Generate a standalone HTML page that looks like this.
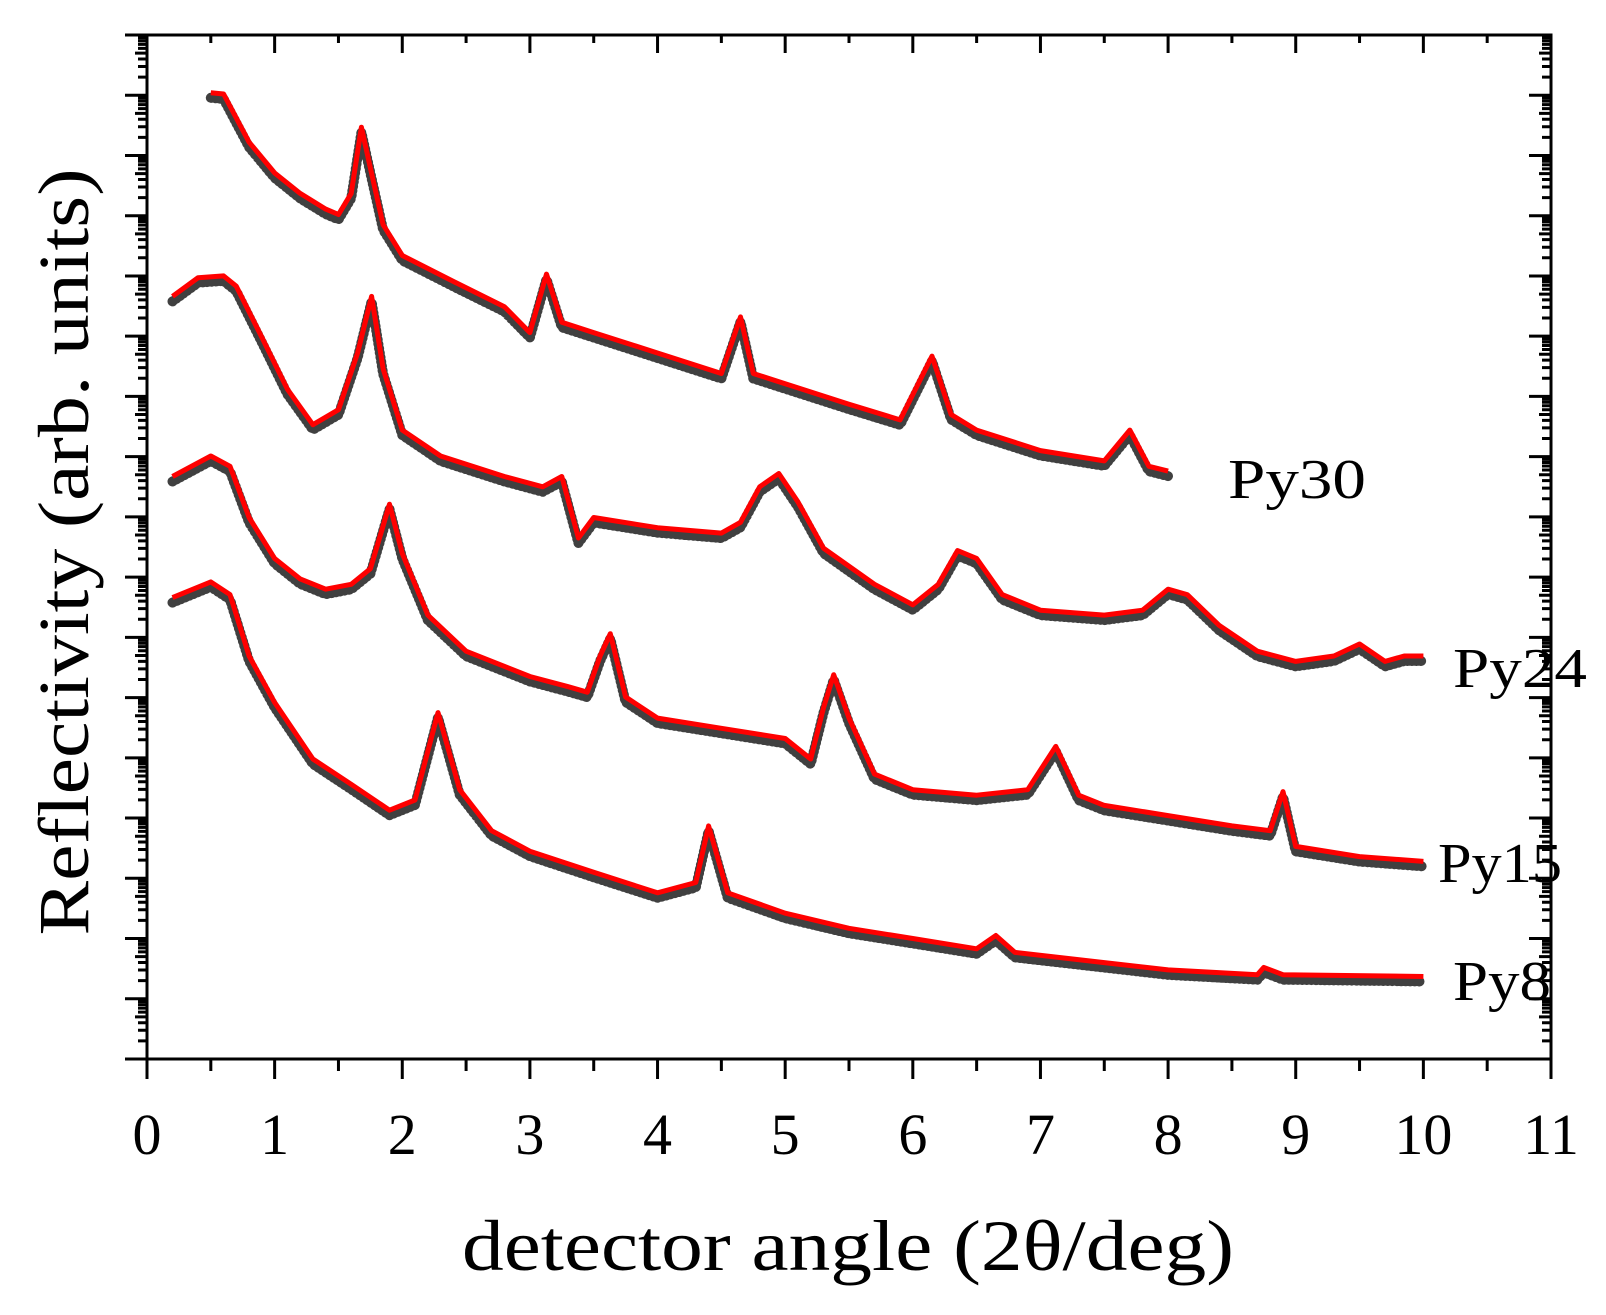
<!DOCTYPE html>
<html><head><meta charset="utf-8"><style>
html,body{margin:0;padding:0;background:#fff;}
svg{display:block;}
text{font-family:"Liberation Serif",serif;fill:#000;}
</style></head><body>
<svg id="chart" width="1606" height="1315" viewBox="0 0 1606 1315" xmlns="http://www.w3.org/2000/svg">
<g id="axes"></g>
<g id="series"></g>
<text x="848" y="1270" font-size="72" text-anchor="middle" textLength="772" lengthAdjust="spacingAndGlyphs">detector angle (2θ/deg)</text>
<text transform="translate(88,552) rotate(-90)" font-size="72" text-anchor="middle" textLength="767" lengthAdjust="spacingAndGlyphs">Reflectivity (arb. units)</text>
<text x="1228" y="498" font-size="56" textLength="138" lengthAdjust="spacingAndGlyphs">Py30</text>
<text x="1453" y="687" font-size="56" textLength="134" lengthAdjust="spacingAndGlyphs">Py24</text>
<text x="1438" y="882" font-size="56" textLength="124" lengthAdjust="spacingAndGlyphs">Py15</text>
<text x="1453" y="1000" font-size="56" textLength="98" lengthAdjust="spacingAndGlyphs">Py8</text>
</svg>
<script>
const xTicks=[0,1,2,3,4,5,6,7,8,9,10,11];
const yDecades=[0,1,2,3,4,5,6,7,8,9,10,11,12,13,14,15,16,17];
const py30X=[0.5,0.6,0.8,1.0,1.2,1.4,1.5,1.6,1.68,1.75,1.85,2.0,2.4,2.8,3.0,3.13,3.25,3.5,4.0,4.5,4.65,4.75,5.0,5.5,5.9,6.15,6.3,6.5,7.0,7.5,7.7,7.85,8.0];
const py30Y=[16.04,16.02,15.22,14.71,14.37,14.11,14.02,14.37,15.47,14.79,13.85,13.34,12.91,12.49,12.06,13.03,12.23,12.06,11.72,11.38,12.32,11.38,11.21,10.87,10.61,11.67,10.70,10.44,10.10,9.93,10.44,9.84,9.76];
const py24X=[0.2,0.4,0.6,0.7,0.9,1.1,1.3,1.5,1.65,1.76,1.85,2.0,2.3,2.8,3.1,3.25,3.38,3.5,4.0,4.5,4.65,4.8,4.95,5.1,5.3,5.7,6.0,6.2,6.35,6.5,6.7,7.0,7.5,7.8,8.0,8.15,8.4,8.7,9.0,9.3,9.5,9.7,9.85,10.0];
const py24Y=[12.66,12.97,13.0,12.83,11.98,11.12,10.53,10.78,11.72,12.66,11.46,10.44,10.01,9.67,9.50,9.67,8.65,8.99,8.82,8.73,8.91,9.50,9.72,9.25,8.48,7.88,7.54,7.88,8.44,8.31,7.71,7.45,7.37,7.45,7.80,7.71,7.20,6.77,6.60,6.69,6.89,6.60,6.69,6.69];
const py15X=[0.2,0.5,0.65,0.8,1.0,1.2,1.4,1.6,1.75,1.9,2.0,2.2,2.5,3.0,3.3,3.45,3.55,3.63,3.75,4.0,4.5,5.0,5.2,5.3,5.38,5.5,5.7,6.0,6.5,6.9,7.12,7.3,7.5,8.0,8.5,8.8,8.9,9.0,9.5,10.0];
const py15Y=[9.67,10.01,9.84,8.99,8.31,7.97,7.80,7.88,8.14,9.21,8.39,7.37,6.77,6.35,6.18,6.09,6.69,7.06,6.01,5.66,5.49,5.32,4.98,5.83,6.38,5.66,4.73,4.47,4.38,4.47,5.19,4.38,4.21,4.04,3.87,3.79,4.44,3.53,3.36,3.28];
const py8X=[0.2,0.5,0.65,0.8,1.0,1.3,1.6,1.9,2.1,2.28,2.45,2.7,3.0,3.5,4.0,4.3,4.4,4.55,5.0,5.5,6.0,6.5,6.65,6.8,7.5,8.0,8.7,8.75,8.9,10.0];
const py8Y=[7.66,7.92,7.71,6.69,5.92,4.98,4.56,4.13,4.30,5.75,4.47,3.79,3.45,3.10,2.76,2.93,3.87,2.76,2.42,2.17,2.00,1.83,2.05,1.77,1.60,1.48,1.40,1.52,1.40,1.37];

const NS='http://www.w3.org/2000/svg';
const X0=147,X1=1551,Y0=1059,Y1=35;
const sx=v=>X0+v*(X1-X0)/11;
const sy=v=>Y0-v*(Y0-Y1)/17;
const axes=document.getElementById('axes');
const ser=document.getElementById('series');
function mk(tag,attrs,parent){const e=document.createElementNS(NS,tag);for(const k in attrs)e.setAttribute(k,attrs[k]);parent.appendChild(e);return e;}
const frame=mk('rect',{x:X0,y:Y1,width:X1-X0,height:Y0-Y1,fill:'none',stroke:'#000','stroke-width':3},axes);


let d='';
xTicks.forEach(t=>{const x=sx(t);d+=`M${x},${Y0}v20M${x},${Y1}v18`;if(t<11){const m=sx(t+0.5);d+=`M${m},${Y0}v12M${m},${Y1}v8`;}});
yDecades.forEach(t=>{const y=sy(t);d+=`M${X0},${y}h-22M${X1},${y}h-22`;if(t<17){for(let k=2;k<10;k++){const yy=sy(t+Math.log10(k));const L=k==5?12:9;d+=`M${X0},${yy}h-${L}M${X1},${yy}h-${L}`;}}});
const tk=mk('path',{d:d,stroke:'#000','stroke-width':3,fill:'none'},axes);


xTicks.forEach(t=>{const e=mk('text',{x:sx(t),y:1154,'font-size':58,'text-anchor':'middle'},axes);e.textContent=String(t);

});
function draw(xs,ys,name){
  let p='';xs.forEach((x,i)=>{p+=(i?'L':'M')+sx(x).toFixed(1)+','+sy(ys[i]).toFixed(1);});
  const b=mk('path',{d:p,fill:'none',stroke:'#000','stroke-width':10,'stroke-dasharray':'0.5 4','stroke-linecap':'round','stroke-linejoin':'round',transform:'translate(0,5)',opacity:0.75},ser);
  
  
  const r=mk('path',{d:p,fill:'none',stroke:'#f00','stroke-width':5,'stroke-linejoin':'round'},ser);
  
  
}
draw(py30X,py30Y,'py30');
draw(py24X,py24Y,'py24');
draw(py15X,py15Y,'py15');
draw(py8X,py8Y,'py8');
</script>
</body></html>
